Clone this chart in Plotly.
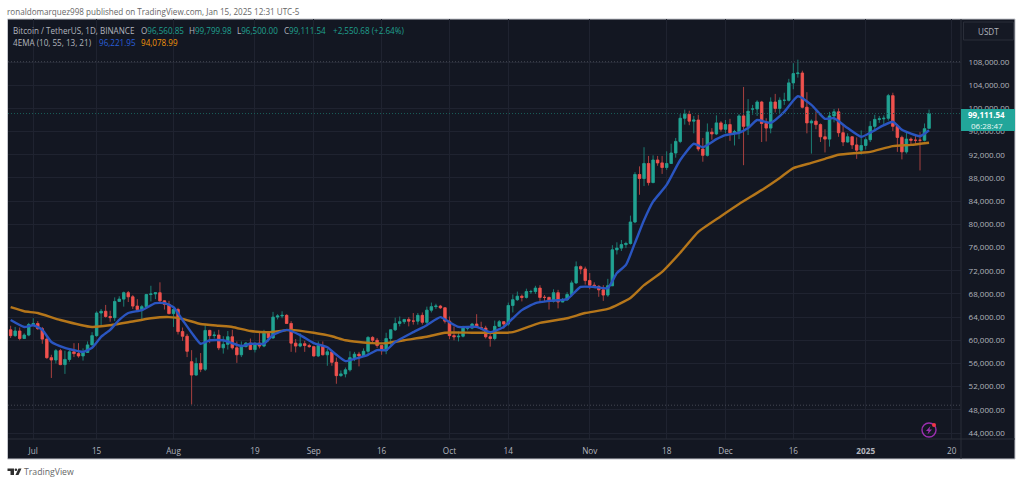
"""BTCUSDT daily candles with two EMA lines, TradingView look."""

import pandas as pd
import plotly.graph_objects as go

# prices in thousands of USDT, one value per day from 2024-06-26 to 2025-01-15
dates = pd.date_range("2024-06-26", periods=204, freq="D")
opens = [
    61.8, 60.8, 61.6, 60.3, 60.9, 62.7, 62.9, 62.0, 60.2, 57.0, 56.6, 58.2, 55.8, 56.7, 58.0, 57.7, 57.3,
    57.9, 59.2, 60.8, 64.7, 65.0, 64.1, 63.9, 66.7, 67.1, 68.2, 67.5, 65.9, 65.3, 65.8, 67.9, 68.0, 68.2,
    66.8, 66.2, 64.6, 65.3, 61.5, 60.7, 56.3, 54.0, 56.0, 55.0, 61.7, 60.8, 60.9, 58.7, 59.3, 60.6, 58.7,
    57.5, 58.9, 59.5, 58.4, 59.5, 59.0, 61.2, 60.4, 64.0, 64.2, 64.3, 62.9, 59.5, 59.0, 59.4, 59.1, 58.9,
    57.3, 59.1, 57.5, 58.0, 56.2, 53.9, 54.2, 54.9, 57.0, 57.6, 57.3, 58.1, 60.5, 60.0, 59.1, 58.2, 60.3,
    61.8, 62.9, 63.2, 63.6, 63.3, 63.3, 64.3, 63.1, 65.2, 65.8, 65.9, 65.6, 63.3, 60.8, 60.6, 60.7, 62.1,
    62.1, 62.8, 62.2, 62.1, 60.6, 60.3, 62.4, 63.2, 62.8, 66.0, 67.0, 67.6, 67.4, 68.4, 68.4, 69.0, 67.4,
    67.4, 66.7, 68.2, 66.6, 67.0, 67.9, 69.9, 72.7, 72.3, 70.3, 69.5, 69.3, 68.7, 67.8, 69.4, 75.6, 75.9,
    76.5, 76.7, 80.4, 88.6, 87.9, 90.5, 87.2, 91.1, 90.6, 89.8, 90.5, 92.3, 94.3, 98.3, 99.0, 97.8, 98.0,
    93.0, 91.9, 95.9, 95.6, 97.5, 96.4, 97.2, 95.8, 96.0, 98.7, 96.9, 99.9, 99.9, 101.1, 97.4, 96.6, 101.1,
    100.0, 101.4, 101.4, 104.4, 106.0, 106.1, 100.2, 97.5, 97.8, 97.2, 95.1, 94.7, 98.7, 99.4, 95.8, 94.2,
    95.1, 93.7, 92.8, 93.6, 94.6, 96.9, 98.1, 98.2, 98.3, 102.2, 96.9, 95.0, 92.5, 94.7, 94.5, 94.5, 94.5,
    96.56,
]
highs = [
    62.5, 62.3, 62.2, 61.2, 63.0, 63.8, 63.3, 62.3, 60.5, 57.5, 58.5, 58.5, 58.2, 58.3, 59.5, 59.5, 58.6,
    59.8, 61.4, 65.0, 65.4, 66.1, 65.1, 67.4, 67.6, 68.4, 68.5, 67.8, 67.1, 66.1, 68.0, 69.4, 68.3, 70.0,
    66.9, 66.8, 65.6, 65.6, 62.2, 61.1, 58.3, 57.0, 57.8, 62.7, 61.8, 61.5, 61.8, 60.7, 61.6, 61.8, 59.8,
    59.8, 59.7, 60.3, 59.6, 61.4, 61.8, 61.4, 64.9, 64.5, 65.0, 64.5, 63.3, 60.2, 61.2, 59.9, 59.4, 59.0,
    59.8, 59.8, 58.5, 58.3, 57.0, 54.8, 55.3, 58.1, 58.0, 58.0, 58.6, 60.7, 60.7, 60.4, 59.2, 61.3, 61.8,
    63.9, 64.1, 63.6, 64.0, 64.7, 64.7, 64.8, 65.8, 66.5, 66.3, 66.1, 65.7, 64.1, 62.4, 61.5, 62.5, 62.4,
    63.0, 64.5, 63.2, 62.5, 61.3, 63.4, 63.5, 63.3, 66.5, 67.9, 68.4, 67.9, 68.9, 68.7, 69.4, 69.5, 67.8,
    67.5, 68.8, 68.7, 67.3, 68.3, 70.3, 73.6, 72.9, 72.7, 71.6, 70.0, 69.5, 69.5, 70.6, 76.4, 76.9, 77.3,
    77.0, 81.5, 89.0, 90.0, 93.3, 91.8, 91.9, 91.8, 91.8, 92.6, 93.9, 94.9, 99.0, 99.8, 99.6, 98.7, 98.9,
    94.9, 97.4, 96.6, 98.8, 97.8, 98.0, 98.2, 96.3, 99.0, 103.7, 101.6, 100.6, 101.4, 101.3, 98.3, 101.9,
    102.5, 101.9, 102.7, 105.1, 107.8, 108.4, 106.5, 102.8, 98.1, 99.5, 97.4, 96.4, 99.4, 99.9, 100.0, 97.3,
    95.7, 95.2, 95.0, 96.2, 95.0, 97.8, 98.9, 98.7, 98.8, 102.5, 102.7, 97.3, 95.3, 95.8, 95.0, 95.4, 95.9,
    97.4, 99.8,
]
lows = [
    60.4, 60.6, 60.0, 60.3, 60.7, 62.5, 61.8, 59.4, 56.8, 53.5, 56.0, 55.7, 54.2, 56.3, 57.1, 57.0, 56.5,
    57.8, 59.2, 60.6, 62.4, 63.9, 63.2, 63.3, 66.6, 65.8, 66.6, 65.4, 65.1, 63.4, 65.7, 66.7, 67.1, 66.5,
    65.3, 64.5, 62.3, 61.0, 59.9, 57.1, 48.9, 53.9, 54.5, 54.7, 59.5, 60.3, 58.3, 57.7, 58.4, 58.4, 56.1,
    57.1, 58.8, 58.4, 57.9, 58.6, 58.8, 59.8, 60.3, 63.6, 63.8, 62.8, 58.0, 57.9, 58.8, 58.0, 58.7, 57.2,
    57.1, 57.4, 55.6, 55.6, 52.5, 53.7, 53.6, 54.6, 56.4, 55.5, 57.3, 57.6, 59.4, 58.7, 57.5, 57.6, 59.2,
    61.6, 62.4, 62.8, 62.4, 62.7, 62.7, 62.7, 62.7, 64.8, 65.4, 65.4, 62.9, 60.2, 60.0, 59.8, 60.5, 61.7,
    61.9, 62.1, 61.8, 60.3, 58.9, 60.0, 62.4, 62.0, 62.5, 64.8, 66.8, 66.7, 67.2, 68.0, 68.0, 66.6, 66.6,
    65.3, 66.5, 65.5, 66.6, 66.8, 67.5, 69.7, 71.4, 69.6, 68.8, 69.0, 67.5, 66.8, 67.5, 69.4, 74.8, 75.4,
    75.9, 76.5, 80.2, 85.1, 86.6, 86.7, 87.1, 90.1, 88.7, 89.4, 90.4, 91.5, 94.0, 97.2, 97.1, 95.7, 92.6,
    90.8, 91.7, 94.6, 95.4, 96.0, 95.7, 94.4, 93.6, 94.7, 90.2, 95.4, 98.9, 98.7, 94.2, 94.3, 95.7, 99.3,
    99.2, 100.6, 101.2, 103.3, 105.3, 100.0, 95.7, 92.2, 96.4, 94.2, 92.4, 93.4, 97.6, 95.1, 93.5, 94.1,
    93.0, 91.3, 92.0, 92.9, 94.2, 96.0, 97.5, 97.3, 97.9, 96.1, 92.5, 91.2, 92.2, 93.8, 93.7, 89.3, 94.3,
    96.5,
]
closes = [
    60.8, 61.6, 60.3, 60.9, 62.7, 62.9, 62.0, 60.2, 57.0, 56.6, 58.2, 55.8, 56.7, 58.0, 57.7, 57.3, 57.9,
    59.2, 60.8, 64.7, 65.0, 64.1, 63.9, 66.7, 67.1, 68.2, 67.5, 65.9, 65.3, 65.8, 67.9, 68.0, 68.2, 66.8,
    66.2, 64.6, 65.3, 61.5, 60.7, 58.1, 54.0, 56.0, 55.0, 61.7, 60.8, 60.9, 58.7, 59.3, 60.6, 58.7, 57.5,
    58.9, 59.5, 58.4, 59.5, 59.0, 61.2, 60.4, 64.0, 64.2, 64.3, 62.9, 59.5, 59.0, 59.4, 59.1, 58.9, 57.3,
    59.1, 57.5, 58.0, 56.2, 53.9, 54.2, 54.9, 57.0, 57.6, 57.3, 58.1, 60.5, 60.0, 59.1, 58.2, 60.3, 61.8,
    62.9, 63.2, 63.6, 63.3, 63.3, 64.3, 63.1, 65.2, 65.8, 65.9, 65.6, 63.3, 60.8, 60.6, 60.7, 62.1, 62.1,
    62.8, 62.2, 62.1, 60.6, 60.3, 62.4, 63.2, 62.8, 66.0, 67.0, 67.6, 67.4, 68.4, 68.4, 69.0, 67.4, 67.4,
    66.7, 68.2, 66.6, 67.0, 67.9, 69.9, 72.7, 72.3, 70.3, 69.5, 69.3, 68.7, 67.8, 69.4, 75.6, 75.9, 76.5,
    76.7, 80.4, 88.6, 87.9, 90.5, 87.2, 91.1, 90.6, 89.8, 90.5, 92.3, 94.3, 98.3, 99.0, 97.8, 98.0, 93.0,
    91.9, 95.9, 95.6, 97.5, 96.4, 97.2, 95.8, 96.0, 98.7, 96.9, 99.5, 99.9, 101.1, 97.4, 96.6, 101.1, 100.0,
    101.4, 101.4, 104.4, 106.0, 106.1, 100.2, 97.5, 97.8, 97.2, 95.1, 94.7, 98.7, 99.4, 95.8, 94.2, 95.1,
    93.7, 92.8, 93.6, 94.6, 96.9, 98.1, 98.2, 98.3, 102.2, 96.9, 95.0, 92.5, 94.7, 94.5, 94.5, 94.5, 96.5,
    99.11,
]

ema_fast_dates = [
    "2024-06-26", "2024-06-29", "2024-07-01", "2024-07-03", "2024-07-05", "2024-07-08", "2024-07-10",
    "2024-07-12", "2024-07-14", "2024-07-16", "2024-07-18", "2024-07-20", "2024-07-22", "2024-07-25",
    "2024-07-28", "2024-07-30", "2024-08-01", "2024-08-03", "2024-08-05", "2024-08-07", "2024-08-09",
    "2024-08-12", "2024-08-16", "2024-08-18", "2024-08-21", "2024-08-23", "2024-08-26", "2024-08-29",
    "2024-09-01", "2024-09-04", "2024-09-06", "2024-09-08", "2024-09-10", "2024-09-13", "2024-09-15",
    "2024-09-17", "2024-09-19", "2024-09-23", "2024-09-26", "2024-09-29", "2024-10-01", "2024-10-03",
    "2024-10-07", "2024-10-10", "2024-10-13", "2024-10-15", "2024-10-17", "2024-10-20", "2024-10-23",
    "2024-10-27", "2024-10-30", "2024-11-02", "2024-11-05", "2024-11-07", "2024-11-09", "2024-11-11",
    "2024-11-13", "2024-11-15", "2024-11-18", "2024-11-21", "2024-11-24", "2024-11-26", "2024-11-29",
    "2024-12-01", "2024-12-04", "2024-12-06", "2024-12-08", "2024-12-11", "2024-12-14", "2024-12-17",
    "2024-12-20", "2024-12-23", "2024-12-25", "2024-12-28", "2024-12-31", "2025-01-02", "2025-01-05",
    "2025-01-07", "2025-01-09", "2025-01-13", "2025-01-15",
]
ema_fast = [
    63.5, 62.3, 62.6, 61.8, 59.7, 58.7, 58.3, 58.0, 58.7, 60.6, 61.8, 63.5, 64.7, 65.2, 66.4, 66.4, 65.7,
    63.5, 61.3, 59.4, 60.0, 60.0, 59.0, 59.4, 59.4, 60.9, 61.8, 60.9, 59.5, 58.8, 57.5, 56.4, 56.8, 57.5,
    58.3, 58.3, 59.7, 61.4, 62.6, 64.0, 63.1, 62.3, 62.3, 61.4, 62.3, 63.8, 65.2, 66.4, 66.8, 67.1, 69.2,
    69.2, 69.0, 71.6, 73.0, 76.8, 80.7, 83.9, 86.8, 91.1, 93.9, 93.3, 94.7, 95.4, 95.8, 96.6, 98.0, 97.5,
    99.4, 102.1, 100.6, 98.2, 98.3, 96.6, 95.1, 95.8, 97.1, 97.7, 96.3, 95.2, 96.22,
]

ema_slow_dates = [
    "2024-06-26", "2024-06-29", "2024-07-02", "2024-07-07", "2024-07-14", "2024-07-18", "2024-07-22",
    "2024-07-27", "2024-07-31", "2024-08-03", "2024-08-07", "2024-08-11", "2024-08-14", "2024-08-18",
    "2024-08-22", "2024-08-27", "2024-09-01", "2024-09-05", "2024-09-08", "2024-09-11", "2024-09-14",
    "2024-09-17", "2024-09-21", "2024-09-26", "2024-09-30", "2024-10-06", "2024-10-10", "2024-10-15",
    "2024-10-21", "2024-10-27", "2024-10-31", "2024-11-05", "2024-11-10", "2024-11-13", "2024-11-17",
    "2024-11-21", "2024-11-25", "2024-11-30", "2024-12-04", "2024-12-09", "2024-12-13", "2024-12-16",
    "2024-12-20", "2024-12-23", "2024-12-26", "2024-12-30", "2025-01-02", "2025-01-07", "2025-01-11",
    "2025-01-15",
]
ema_slow = [
    65.7, 65.0, 64.7, 63.5, 62.3, 62.6, 63.1, 63.8, 64.0, 63.7, 62.8, 62.5, 62.3, 61.6, 61.4, 61.8, 61.3,
    60.7, 60.0, 59.7, 59.5, 59.5, 60.0, 60.6, 61.3, 61.3, 61.3, 61.4, 63.0, 63.8, 64.7, 65.4, 67.3, 69.5,
    71.8, 75.1, 78.7, 81.4, 83.5, 85.9, 88.0, 89.7, 90.6, 91.3, 92.0, 92.3, 92.5, 93.5, 93.7, 94.08,
]

y_ticks = [108, 104, 100, 96, 92, 88, 84, 80, 76, 72, 68, 64, 60, 56, 52, 48, 44]
y_labels = [
    "108,000.00", "104,000.00", "100,000.00", "96,000.00", "92,000.00", "88,000.00", "84,000.00", "80,000.00",
    "76,000.00", "72,000.00", "68,000.00", "64,000.00", "60,000.00", "56,000.00", "52,000.00", "48,000.00",
    "44,000.00",
]
x_ticks = [
    "2024-07-01", "2024-07-15", "2024-08-01", "2024-08-19", "2024-09-01", "2024-09-16", "2024-10-01",
    "2024-10-14", "2024-11-01", "2024-11-18", "2024-12-01", "2024-12-16", "2025-01-01", "2025-01-20",
]
x_labels = ["Jul", "15", "Aug", "19", "Sep", "16", "Oct", "14", "Nov", "18", "Dec", "16", "<b>2025</b>", "20"]

last_price = 99.11
range_high = 108.05
range_low = 48.8

BG = "#131722"
GRID = "#1f2330"
BORDER = "#2a2e39"
UP = "#22a393"
DOWN = "#f0524f"
TEXT = "#b2b5be"
FONT = "Open Sans"

W, H = 1023, 484
LEFT, RIGHT, TOP, BOTTOM = 8, 961, 19, 439


def fx(x):
    return (x - LEFT) / (RIGHT - LEFT)


def fy(y):
    return (BOTTOM - y) / (BOTTOM - TOP)


def rect(x0, y0, x1, y1, fill, line=None, layer="below"):
    return dict(
        type="rect", xref="paper", yref="paper", x0=fx(x0), x1=fx(x1), y0=fy(y0), y1=fy(y1),
        fillcolor=fill, line=dict(color=line or fill, width=1 if line else 0), layer=layer,
    )


def poly(points, fill):
    path = "M " + " L ".join(f"{fx(x):.5f},{fy(y):.5f}" for x, y in points) + " Z"
    return dict(type="path", xref="paper", yref="paper", path=path, fillcolor=fill, line=dict(width=0), layer="above")


def label(x, y, text, size=8.1, color=TEXT, anchor="left"):
    return dict(
        xref="paper", yref="paper", x=fx(x), y=fy(y), text=text, showarrow=False, xanchor=anchor, yanchor="middle",
        align=anchor, font=dict(family=FONT, size=size, color=color), borderpad=0, borderwidth=0,
    )


fig = go.Figure()

# wicks are a bit dimmer than the bodies on the reference, so they get their own trace
fig.add_trace(
    go.Candlestick(
        x=dates, open=opens, high=highs, low=lows, close=closes,
        increasing=dict(line=dict(color="#1b7d73", width=1), fillcolor="#1b7d73"),
        decreasing=dict(line=dict(color="#a8403f", width=1), fillcolor="#a8403f"),
        whiskerwidth=0, hoverinfo="skip",
    )
)
fig.add_trace(
    go.Candlestick(
        x=dates, open=opens, close=closes,
        high=[max(o, c) for o, c in zip(opens, closes)],
        low=[min(o, c) for o, c in zip(opens, closes)],
        increasing=dict(line=dict(color=UP, width=0.5), fillcolor=UP),
        decreasing=dict(line=dict(color=DOWN, width=0.5), fillcolor=DOWN),
        whiskerwidth=0,
    )
)
fig.add_trace(
    go.Scatter(
        x=ema_slow_dates, y=ema_slow, mode="lines",
        line=dict(color="#b5761a", width=2.4, shape="spline", smoothing=0.5), hoverinfo="skip",
    )
)
fig.add_trace(
    go.Scatter(
        x=ema_fast_dates, y=ema_fast, mode="lines",
        line=dict(color="#2a55c0", width=2.4, shape="spline", smoothing=0.5), hoverinfo="skip",
    )
)

shapes = [
    rect(7.5, 19, 1015, 459, BG, "#c4c6cc"),
    dict(type="line", xref="paper", yref="paper", x0=1, x1=1, y0=fy(19), y1=fy(459), line=dict(color=BORDER, width=1)),
    dict(type="line", xref="paper", yref="paper", x0=0, x1=fx(1015), y0=0, y1=0, line=dict(color=BORDER, width=1)),
    dict(type="line", xref="x domain", yref="y", x0=0, x1=1, y0=last_price, y1=last_price, line=dict(color="#1a5f5a", width=1, dash="1px,2px")),
    dict(type="line", xref="x domain", yref="y", x0=0, x1=1, y0=range_high, y1=range_high, line=dict(color="#444853", width=1, dash="1px,2px")),
    dict(type="line", xref="x domain", yref="y", x0=0, x1=1, y0=range_low, y1=range_low, line=dict(color="#444853", width=1, dash="1px,2px")),
    # USDT currency box and last price tag
    rect(963.5, 22, 1013.5, 40, "#151924", BORDER, layer="above"),
    rect(961, 109, 1015, 131, "#22a69a", layer="above"),
    # bolt badge
    dict(type="circle", xref="paper", yref="paper", x0=fx(922), x1=fx(936), y0=fy(423), y1=fy(437), line=dict(color="#9c2fb0", width=1.4), layer="above"),
    poly([(930.5, 426), (926, 431), (928.6, 431), (927.5, 434.5), (932, 429.5), (929.4, 429.5)], "#9c2fb0"),
    dict(type="circle", xref="paper", yref="paper", x0=fx(932), x1=fx(936), y0=fy(423), y1=fy(427), fillcolor="#f23645", line=dict(width=0), layer="above"),
    # TradingView logo
    poly([(7.5, 468.5), (14, 468.5), (14, 475), (10.5, 475), (10.5, 471), (7.5, 471)], "#2e2e2e"),
    dict(type="circle", xref="paper", yref="paper", x0=fx(14.6), x1=fx(17.2), y0=fy(468.5), y1=fy(471.1), fillcolor="#2e2e2e", line=dict(width=0), layer="above"),
    poly([(18.5, 468.5), (21.5, 468.5), (18.5, 475), (15.5, 475)], "#2e2e2e"),
]

teal = "#1fa08f"
annotations = [
    label(7, 11, "ronaldomarquez998 published on TradingView.com, Jan 15, 2025 12:31 UTC-5", 8.1, "#666666"),
    label(13, 30.5, "Bitcoin / TetherUS, 1D, BINANCE"),
    label(141, 30.5, f'O<span style="color:{teal}">96,560.85</span>'),
    label(189, 30.5, f'H<span style="color:{teal}">99,799.98</span>'),
    label(237, 30.5, f'L<span style="color:{teal}">96,500.00</span>'),
    label(284, 30.5, f'C<span style="color:{teal}">99,111.54</span>'),
    label(333, 30.5, "+2,550.68 (+2.64%)", color=teal),
    label(13, 42.5, "4EMA (10, 55, 13, 21)"),
    label(99, 42.5, "96,221.95", color="#2a5fd8"),
    label(141, 42.5, "94,078.99", color="#f0960a"),
    label(988.5, 31, "USDT", 8.1, TEXT, "center"),
    label(986.5, 114.5, "<b>99,111.54</b>", 8.0, "#ffffff", "center"),
    label(986.5, 125, "06:28:47", 8.0, "#eaf7f5", "center"),
    label(24, 472, "TradingView", 8.7, "#666666"),
]

fig.update_layout(
    width=W,
    height=H,
    autosize=False,
    showlegend=False,
    paper_bgcolor="#ffffff",
    plot_bgcolor=BG,
    margin=dict(l=LEFT, r=W - RIGHT, t=TOP, b=H - BOTTOM, pad=0),
    boxgap=0.24,
    font=dict(family=FONT, size=8, color=TEXT),
    shapes=shapes,
    annotations=annotations,
    xaxis=dict(
        type="date",
        range=["2024-06-25 10:00", "2025-01-22 01:30"],
        rangeslider=dict(visible=False),
        tickvals=x_ticks,
        ticktext=x_labels,
        tickangle=0,
        ticks="outside",
        ticklen=4,
        tickcolor=BG,
        showgrid=True,
        gridcolor=GRID,
        gridwidth=1,
        showline=False,
        zeroline=False,
        tickfont=dict(family=FONT, size=8.2, color=TEXT),
    ),
    yaxis=dict(
        side="right",
        range=[42.97, 115.42],
        tickvals=y_ticks,
        ticktext=y_labels,
        ticks="outside",
        ticklen=5,
        tickcolor=BG,
        showgrid=True,
        gridcolor=GRID,
        gridwidth=1,
        showline=False,
        zeroline=False,
        tickfont=dict(family=FONT, size=8.0, color=TEXT),
    ),
)

# the browser's default 8px body margin would shift the whole picture
fig.write_html("out.html", config={"displayModeBar": False}, post_script="document.body.style.margin = '0';")
